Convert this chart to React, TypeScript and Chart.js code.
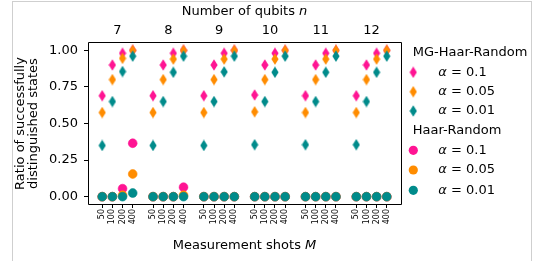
import React, { useEffect, useRef } from 'react';
import { Chart, registerables } from 'chart.js';

Chart.register(...registerables);

// ---------- data ----------
const qubits = [7, 8, 9, 10, 11, 12];
const shots = [50, 100, 200, 400];
const yTicks = [0, 0.25, 0.5, 0.75, 1.0];
const alphaLabels = ['0.1', '0.05', '0.01'];

// MG-Haar-Random (diamonds), ordered by n then M
const mgAlpha01 = [
  0.69, 0.9, 0.98, 1.0,
  0.69, 0.9, 0.98, 1.0,
  0.69, 0.9, 0.98, 1.0,
  0.695, 0.9, 0.98, 1.0,
  0.69, 0.9, 0.98, 1.0,
  0.69, 0.9, 0.98, 1.0,
];
const mgAlpha005 = [
  0.575, 0.8, 0.945, 1.0,
  0.575, 0.8, 0.94, 1.0,
  0.575, 0.8, 0.94, 1.0,
  0.58, 0.8, 0.94, 1.0,
  0.575, 0.8, 0.94, 1.0,
  0.575, 0.8, 0.94, 1.0,
];
const mgAlpha001 = [
  0.35, 0.65, 0.855, 0.96,
  0.35, 0.65, 0.85, 0.96,
  0.35, 0.65, 0.853, 0.96,
  0.355, 0.65, 0.85, 0.96,
  0.355, 0.65, 0.85, 0.96,
  0.355, 0.65, 0.85, 0.96,
];
// Haar-Random (circles)
const haarAlpha01 = [
  0, 0, 0.055, 0.365,
  0, 0, 0, 0.065,
  0, 0, 0, 0,
  0, 0, 0, 0,
  0, 0, 0, 0,
  0, 0, 0, 0,
];
const haarAlpha005 = [
  0, 0, 0.01, 0.155,
  0, 0, 0, 0.01,
  0, 0, 0, 0,
  0, 0, 0, 0,
  0, 0, 0, 0,
  0, 0, 0, 0,
];
const haarAlpha001 = [
  0, 0, 0, 0.025,
  0, 0, 0, 0,
  0, 0, 0, 0,
  0, 0, 0, 0,
  0, 0, 0, 0,
  0, 0, 0, 0,
];

// ---------- styles ----------
const PINK = '#ff1493';
const ORANGE = '#ff8c00';
const TEAL = '#008b8b';
const COLORS = [PINK, ORANGE, TEAL];
const FONT = '"DejaVu Sans", sans-serif';
const W = 538;
const H = 261;
const GROUP_GAP = 5;

const toPoints = (vals: number[]) =>
  vals.map((v, i) => ({ x: GROUP_GAP * Math.floor(i / shots.length) + (i % shots.length), y: v }));

function makeDiamond(color: string) {
  const c = document.createElement('canvas');
  c.width = 8;
  c.height = 12;
  const ctx = c.getContext('2d')!;
  ctx.fillStyle = color;
  ctx.beginPath();
  ctx.moveTo(4, 0.3);
  ctx.lineTo(7.6, 6);
  ctx.lineTo(4, 11.7);
  ctx.lineTo(0.4, 6);
  ctx.closePath();
  ctx.fill();
  return c;
}

function drawMixed(
  ctx: CanvasRenderingContext2D,
  parts: { t: string; italic?: boolean }[],
  x: number,
  y: number,
  align: 'left' | 'center',
  size: number
) {
  const widths = parts.map((p) => {
    ctx.font = `${p.italic ? 'italic ' : ''}${size}px ${FONT}`;
    return ctx.measureText(p.t).width;
  });
  const total = widths.reduce((a, b) => a + b, 0);
  let cx = align === 'center' ? x - total / 2 : x;
  ctx.textAlign = 'left';
  parts.forEach((p, i) => {
    ctx.font = `${p.italic ? 'italic ' : ''}${size}px ${FONT}`;
    ctx.fillText(p.t, cx, y);
    cx += widths[i];
  });
}

export default function App() {
  const ref = useRef<HTMLCanvasElement>(null);

  useEffect(() => {
    const canvas = ref.current!;
    const diamonds = COLORS.map(makeDiamond);

    const mgSeries = [mgAlpha01, mgAlpha005, mgAlpha001];
    const haarSeries = [haarAlpha01, haarAlpha005, haarAlpha001];

    const datasets: any[] = [];
    mgSeries.forEach((vals, i) => {
      datasets.push({
        label: `MG-Haar-Random α = ${alphaLabels[i]}`,
        data: toPoints(vals),
        pointStyle: diamonds[i],
        pointRadius: 5,
        backgroundColor: COLORS[i],
        borderColor: COLORS[i],
        showLine: false,
        order: 10 - i,
      });
    });
    haarSeries.forEach((vals, i) => {
      datasets.push({
        label: `Haar-Random α = ${alphaLabels[i]}`,
        data: toPoints(vals),
        pointStyle: 'circle',
        pointRadius: 4.4,
        borderWidth: 0.6,
        backgroundColor: COLORS[i],
        borderColor: COLORS[i],
        showLine: false,
        order: 5 - i,
      });
    });

    const decor = {
      id: 'decor',
      afterDatasetsDraw(chart: any) {
        const { ctx, chartArea } = chart;
        const { left, right, top, bottom } = chartArea;
        ctx.save();
        ctx.strokeStyle = '#000';
        ctx.lineWidth = 1;
        ctx.beginPath();
        ctx.rect(left + 0.5, top - 0.5, right - left, bottom - top + 1);
        ctx.stroke();
        ctx.restore();
      },
      afterDraw(chart: any) {
        const { ctx, chartArea } = chart;
        const cx = (chartArea.left + chartArea.right) / 2;
        ctx.save();
        ctx.fillStyle = '#000';
        ctx.textBaseline = 'alphabetic';
        drawMixed(ctx, [{ t: 'Number of qubits ' }, { t: 'n', italic: true }], cx, 15, 'center', 13);
        drawMixed(ctx, [{ t: 'Measurement shots ' }, { t: 'M', italic: true }], cx, 248.5, 'center', 13);

        // legend
        const lx = 412.7;
        const mx = 413.3;
        const tx = 438.3;
        ctx.textBaseline = 'middle';
        ctx.font = `13px ${FONT}`;
        ctx.textAlign = 'left';
        ctx.fillText('MG-Haar-Random', lx, 52.7);
        const mgRows = [72.3, 91.7, 111];
        mgRows.forEach((y, i) => {
          const img = diamonds[i];
          ctx.drawImage(img, mx - img.width / 2, y - img.height / 2);
          drawMixed(ctx, [{ t: 'α', italic: true }, { t: ` = ${alphaLabels[i]}` }], tx, y, 'left', 13);
        });
        ctx.font = `13px ${FONT}`;
        ctx.fillText('Haar-Random', lx, 130.7);
        const hRows = [150.3, 170, 190.3];
        hRows.forEach((y, i) => {
          ctx.fillStyle = COLORS[i];
          ctx.beginPath();
          ctx.arc(mx, y, 4.6, 0, Math.PI * 2);
          ctx.fill();
          ctx.fillStyle = '#000';
          drawMixed(ctx, [{ t: 'α', italic: true }, { t: ` = ${alphaLabels[i]}` }], tx, y, 'left', 13);
        });
        ctx.restore();
      },
    };

    const xMin = -1.4;
    const xMax = GROUP_GAP * (qubits.length - 1) + shots.length - 1 + 1.4;
    const xTickPos: number[] = [];
    qubits.forEach((_, g) => shots.forEach((__, k) => xTickPos.push(GROUP_GAP * g + k)));
    const groupCenters = qubits.map((_, g) => GROUP_GAP * g + (shots.length - 1) / 2);

    const chart = new Chart(canvas, {
      type: 'scatter',
      data: { datasets },
      options: {
        animation: false,
        responsive: false,
        devicePixelRatio: 1,
        layout: { padding: { left: 0, right: 137, top: 0, bottom: 0 } },
        plugins: { legend: { display: false }, tooltip: { enabled: false } },
        scales: {
          x: {
            type: 'linear',
            position: 'bottom',
            min: xMin,
            max: xMax,
            afterBuildTicks: (s: any) => {
              s.ticks = xTickPos.map((v) => ({ value: v }));
            },
            afterFit: (s: any) => {
              s.height = 57;
            },
            ticks: {
              autoSkip: false,
              minRotation: 90,
              maxRotation: 90,
              padding: 1,
              color: '#000',
              font: { family: FONT, size: 8 },
              callback: (_v: any, i: number) => String(shots[i % shots.length]),
            },
            grid: { drawOnChartArea: false, tickLength: 4, color: '#000', tickColor: '#000' },
            border: { display: false },
          },
          x2: {
            type: 'linear',
            position: 'top',
            min: xMin,
            max: xMax,
            afterBuildTicks: (s: any) => {
              s.ticks = groupCenters.map((v) => ({ value: v }));
            },
            afterFit: (s: any) => {
              s.height = 43;
            },
            ticks: {
              autoSkip: false,
              maxRotation: 0,
              minRotation: 0,
              padding: 5,
              color: '#000',
              font: { family: FONT, size: 13 },
              callback: (_v: any, i: number) => String(qubits[i]),
            },
            grid: { drawOnChartArea: false, drawTicks: false },
            border: { display: false },
          },
          y: {
            type: 'linear',
            min: -0.05,
            max: 1.05,
            afterBuildTicks: (s: any) => {
              s.ticks = yTicks.map((v) => ({ value: v }));
            },
            afterFit: (s: any) => {
              s.width = 88;
            },
            ticks: {
              padding: 6,
              color: '#000',
              font: { family: FONT, size: 13 },
              callback: (v: any) => Number(v).toFixed(2),
            },
            grid: { drawOnChartArea: false, tickLength: 4, color: '#000', tickColor: '#000' },
            border: { display: false },
            title: {
              display: true,
              text: ['Ratio of successfully', 'distinguished states'],
              color: '#000',
              font: { family: FONT, size: 13, lineHeight: 0.98 },
              padding: { top: 14.6, bottom: 0 },
            },
          },
        },
      } as any,
      plugins: [decor],
    });
    return () => chart.destroy();
  }, []);

  return (
    <div style={{ position: 'fixed', left: 0, top: 0, width: W, height: H, background: '#fff', overflow: 'hidden' }}>
      <div
        style={{
          position: 'absolute',
          left: 12,
          top: 1,
          width: 518,
          height: 300,
          borderLeft: '1px solid #cfcfcf',
          borderTop: '1px solid #cfcfcf',
          borderRight: '1px solid #cfcfcf',
        }}
      />
      <canvas ref={ref} width={W} height={H} style={{ position: 'absolute', left: 0, top: 0, width: W, height: H }} />
    </div>
  );
}
